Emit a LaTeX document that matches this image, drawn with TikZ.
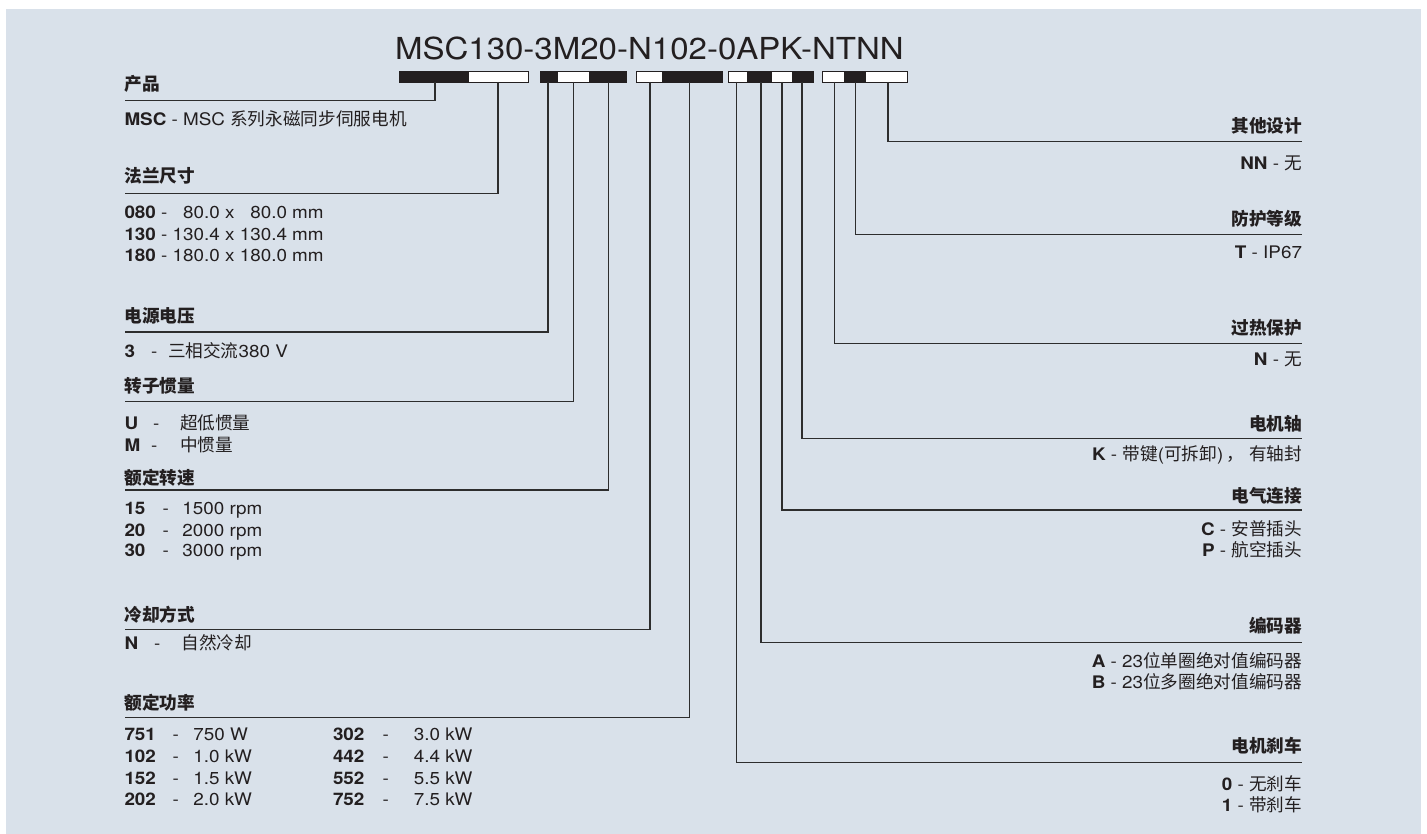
\documentclass[tikz,border=0pt]{standalone}
\usepackage{fontspec}
\setmainfont{TeX Gyre Heros}[FakeStretch=1.09]
\newfontfamily\cjk{Noto Sans CJK SC}[Scale=1.02]
\definecolor{bg}{RGB}{217,225,234}
\definecolor{ink}{RGB}{35,31,32}
\definecolor{ln}{RGB}{45,45,45}
\newcommand\zh[1]{{\cjk #1}}
\newcommand\cb[2]{\makebox[#1pt][l]{\textbf{#2}}}
\newcommand\db[1]{\makebox[#1pt][l]{-}}
\begin{document}
\begin{tikzpicture}[x=1pt,y=-1pt,
  txt/.style={inner sep=0pt, outer sep=0pt, text=ink, font=\fontsize{17.3}{20}\selectfont},
  hd/.style={txt, font=\fontsize{17.3}{20}\selectfont\bfseries},
  lbl/.style={txt, anchor=base west},
  rlbl/.style={txt, anchor=base east},
  lhd/.style={hd, anchor=base west},
  rhd/.style={hd, anchor=base east},
  seg/.style={draw=ink, line width=0.9pt, inner sep=0pt, outer sep=0pt, minimum height=11pt, anchor=north west},
  blk/.style={seg, fill=ink},
  wht/.style={seg, fill=white},
  lead/.style={draw=ln, line width=1.2pt},
]
\useasboundingbox (0,0) rectangle (1427,834);
\fill[bg] (6,9) rectangle (1421,834);

% title
\node[txt, anchor=base west, font=\fontsize{30.3}{34}\selectfont] (title) at (395,60) {MSC130-3M20-N102-0APK-NTNN};

% code bar segments
\node[blk, minimum width=69pt] (g1a) at (399,71) {};
\node[wht, minimum width=60pt] (g1b) at (468,71) {};
\node[blk, minimum width=17pt] (g2a) at (540,71) {};
\node[wht, minimum width=32pt] (g2b) at (557,71) {};
\node[blk, minimum width=37pt] (g2c) at (589,71) {};
\node[wht, minimum width=26pt] (g3a) at (636,71) {};
\node[blk, minimum width=60pt] (g3b) at (662,71) {};
\node[wht, minimum width=19pt] (g4a) at (728,71) {};
\node[blk, minimum width=24pt] (g4b) at (747,71) {};
\node[wht, minimum width=21pt] (g4c) at (771,71) {};
\node[blk, minimum width=21pt] (g4d) at (792,71) {};
\node[wht, minimum width=22pt] (g5a) at (822,71) {};
\node[blk, minimum width=21pt] (g5b) at (844,71) {};
\node[wht, minimum width=42pt] (g5c) at (865,71) {};

% tap points and line ends
\coordinate (t1) at (435,82);   \coordinate (e1) at (124.5,100.7);
\coordinate (t2) at (498,82);   \coordinate (e2) at (124.5,193.3);
\coordinate (t3) at (548,82);   \coordinate (e3) at (124.5,332);
\coordinate (t4) at (573.5,82); \coordinate (e4) at (124.5,401.7);
\coordinate (t5) at (608.3,82); \coordinate (e5) at (124.5,490);
\coordinate (t6) at (650,82);   \coordinate (e6) at (124.5,629.5);
\coordinate (t7) at (689.5,82); \coordinate (e7) at (124.5,717.5);
\coordinate (u1) at (888,82);   \coordinate (f1) at (1302,141.7);
\coordinate (u2) at (855.5,82); \coordinate (f2) at (1302,234.3);
\coordinate (u3) at (834.5,82); \coordinate (f3) at (1302,343.3);
\coordinate (u4) at (802,82);   \coordinate (f4) at (1302,438.3);
\coordinate (u5) at (782,82);   \coordinate (f5) at (1302,510);
\coordinate (u6) at (761,82);   \coordinate (f6) at (1302,642.3);
\coordinate (u7) at (736.5,82); \coordinate (f7) at (1302,762.7);
\foreach \i in {1,...,7} {
  \draw[lead] (t\i) |- (e\i);
  \draw[lead] (u\i) |- (f\i);
}

% left column
\node[lhd] (hA) at (124.5,90.5) {\zh{产品}};
\node[lbl] (vA) at (124.5,125.7) {\textbf{MSC} - MSC \zh{系列永磁同步伺服电机}};

\node[lhd] (hB) at (124.5,183) {\zh{法兰尺寸}};
\node[lbl] (vB1) at (124.5,219) {\textbf{080} - \phantom{1}80.0 x \phantom{1}80.0 mm};
\node[lbl] (vB2) at (124.5,240.7) {\textbf{130} - 130.4 x 130.4 mm};
\node[lbl] (vB3) at (124.5,261.7) {\textbf{180} - 180.0 x 180.0 mm};

\node[lhd] (hC) at (124.5,322.5) {\zh{电源电压}};
\node[lbl] (vC) at (124.5,357.3) {\cb{26.5}{3}\db{17}\zh{三相交流}380 V};

\node[lhd] (hD) at (124.5,392.5) {\zh{转子惯量}};
\node[lbl] (vD1) at (124.5,429.3) {\cb{28.7}{U}\db{26.8}\zh{超低惯量}};
\node[lbl] (vD2) at (124.5,451.7) {\cb{26.7}{M}\db{28.8}\zh{中惯量}};

\node[lhd] (hE) at (124.5,484) {\zh{额定转速}};
\node[lbl] (vE1) at (124.5,514) {\cb{38}{15}\db{20}1500 rpm};
\node[lbl] (vE2) at (124.5,536) {\cb{38}{20}\db{20}2000 rpm};
\node[lbl] (vE3) at (124.5,556.7) {\cb{38}{30}\db{20}3000 rpm};

\node[lhd] (hF) at (124.5,621.5) {\zh{冷却方式}};
\node[lbl] (vF) at (124.5,649) {\cb{29.7}{N}\db{27.5}\zh{自然冷却}};

\node[lhd] (hG) at (124.5,709.7) {\zh{额定功率}};
\node[lbl] (vG1) at (124.5,740.7) {\cb{48}{751}\db{21}750 W};
\node[lbl] (vG2) at (124.5,762.3) {\cb{48}{102}\db{21}1.0 kW};
\node[lbl] (vG3) at (124.5,784) {\cb{48}{152}\db{21}1.5 kW};
\node[lbl] (vG4) at (124.5,805) {\cb{48}{202}\db{21}2.0 kW};
\node[lbl] (vG5) at (333,740.7) {\cb{49.5}{302}\db{31.5}3.0 kW};
\node[lbl] (vG6) at (333,762.3) {\cb{49.5}{442}\db{31.5}4.4 kW};
\node[lbl] (vG7) at (333,784) {\cb{49.5}{552}\db{31.5}5.5 kW};
\node[lbl] (vG8) at (333,805) {\cb{49.5}{752}\db{31.5}7.5 kW};

% right column
\node[rhd] (hR1) at (1302,133) {\zh{其他设计}};
\node[rlbl] (vR1) at (1302,169.3) {\textbf{NN} - \zh{无}};

\node[rhd] (hR2) at (1302,226) {\zh{防护等级}};
\node[rlbl] (vR2) at (1302,258.3) {\textbf{T} - IP67};

\node[rhd] (hR3) at (1302,334.5) {\zh{过热保护}};
\node[rlbl] (vR3) at (1302,365.7) {\textbf{N} - \zh{无}};

\node[rhd] (hR4) at (1302,430) {\zh{电机轴}};
\node[rlbl] (vR4) at (1302,460) {\textbf{K} - \zh{带键}(\zh{可拆卸})\,\zh{，}\ \zh{有轴封}};

\node[rhd] (hR5) at (1302,502.5) {\zh{电气连接}};
\node[rlbl] (vR5a) at (1302,535) {\textbf{C} - \zh{安普插头}};
\node[rlbl] (vR5b) at (1302,556.7) {\textbf{P} - \zh{航空插头}};

\node[rhd] (hR6) at (1302,632) {\zh{编码器}};
\node[rlbl] (vR6a) at (1302,667.7) {\textbf{A} - 23\zh{位单圈绝对值编码器}};
\node[rlbl] (vR6b) at (1302,688.3) {\textbf{B} - 23\zh{位多圈绝对值编码器}};

\node[rhd] (hR7) at (1302,752.5) {\zh{电机刹车}};
\node[rlbl] (vR7a) at (1302,790) {\textbf{0} - \zh{无刹车}};
\node[rlbl] (vR7b) at (1302,811.7) {\textbf{1} - \zh{带刹车}};
\end{tikzpicture}
\end{document}
